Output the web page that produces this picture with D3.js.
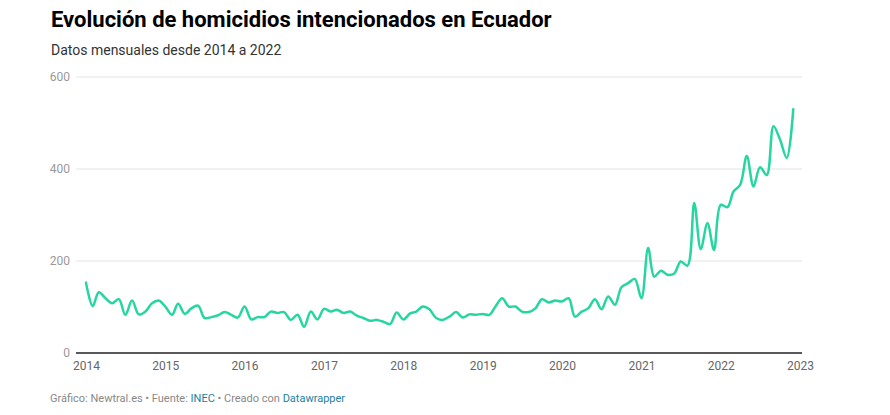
<!DOCTYPE html>
<html><head><meta charset="utf-8">
<script src="https://cdn.jsdelivr.net/npm/d3@7"></script>
<style>
body{margin:0;background:#fff;}
svg{display:block;font-family:Roboto,"Noto Sans",sans-serif;}
</style></head>
<body><svg id="c" width="890" height="415"></svg>
<script>
const title = "Evolución de homicidios intencionados en Ecuador";
const subtitle = "Datos mensuales desde 2014 a 2022";
const startMonth = "2014-01";
const values = [
  153,102,132,119,108,117,83,114,84,90,108,114,
  101,83,107,85,97,103,76,78,82,89,83,77,
  101,73,78,78,90,87,89,72,83,57,90,73,
  96,90,94,87,90,81,76,70,72,68,63,88,
  73,86,90,101,95,76,72,79,89,77,84,83,
  85,83,101,119,101,101,90,89,97,117,110,114,
  112,119,79,90,97,117,95,123,105,143,152,161,
  119,228,166,179,170,173,199,190,326,226,282,224,
  322,317,351,366,428,362,404,387,493,464,424,530
];
const yTicks = [0,200,400,600];
const xTickYears = [2014,2015,2016,2017,2018,2019,2020,2021,2022,2023];

const parse = d3.timeParse("%Y-%m");
const t0 = parse(startMonth);
const dates = values.map((v,i)=>d3.timeMonth.offset(t0,i));
const data = values.map((v,i)=>({date:dates[i],value:v}));

const svg = d3.select("#c");
const x = d3.scaleTime().domain([new Date(2014,0,1), new Date(2023,0,1)]).range([86,800]);
const y = d3.scaleLinear().domain([0,600]).range([353,77]);

svg.append("text").attr("x",51).attr("y",27).attr("font-size",22).attr("font-weight",700).attr("fill","#000").text(title);
svg.append("text").attr("x",51).attr("y",55).attr("font-size",14).attr("fill","#333").text(subtitle);

// grid
const yAxis = d3.axisLeft(y).tickValues(yTicks).tickSize(0).tickPadding(6);
const gy = svg.append("g").attr("transform","translate(76,0)").call(yAxis);
gy.select(".domain").remove();
gy.selectAll("text").attr("font-size",12).attr("fill","#999").attr("font-family","Roboto,sans-serif");
svg.append("g").selectAll("line").data(yTicks.filter(d=>d>0)).join("line")
  .attr("x1",76).attr("x2",802).attr("y1",d=>y(d)).attr("y2",d=>y(d))
  .attr("stroke","#e3e3e3").attr("stroke-width",1);

// x axis
const xAxis = d3.axisBottom(x).tickValues(xTickYears.map(yr=>new Date(yr,0,1))).tickFormat(d3.timeFormat("%Y")).tickSize(0).tickPadding(8);
const gx = svg.append("g").attr("transform",`translate(0,${y(0)})`).call(xAxis);
gx.select(".domain").remove();
gx.selectAll("text").attr("font-size",12).attr("fill","#666").attr("font-family","Roboto,sans-serif");
svg.append("line").attr("x1",76).attr("x2",802).attr("y1",y(0)).attr("y2",y(0)).attr("stroke","#222").attr("stroke-width",1.3);

// line
const line = d3.line().x(d=>x(d.date)).y(d=>y(d.value)).curve(d3.curveCatmullRom.alpha(0.5));
svg.append("path").datum(data).attr("d",line).attr("fill","none").attr("stroke","#26d6a0").attr("stroke-width",2.5).attr("stroke-linejoin","round").attr("stroke-linecap","round");

// footer
const f = svg.append("text").attr("x",50).attr("y",402).attr("font-size",11).attr("fill","#888");
f.append("tspan").text("Gráfico: Newtral.es • Fuente: ");
f.append("tspan").attr("fill","#1d81a2").text("INEC");
f.append("tspan").text(" • Creado con ");
f.append("tspan").attr("fill","#1d81a2").text("Datawrapper");
</script></body></html>
